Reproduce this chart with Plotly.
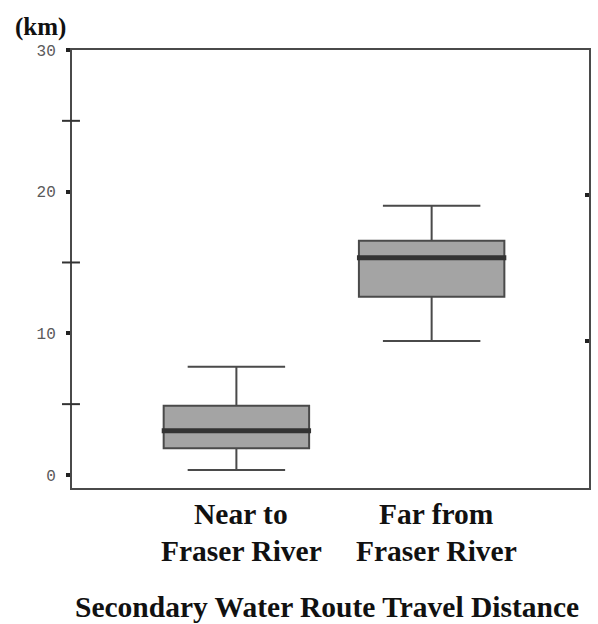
import plotly.graph_objects as go

# Travel distance summaries (km) for the two groups of households
categories = ["Near to<br>Fraser River", "Far from<br>Fraser River"]
lower_whisker = [0.35, 9.46]
q1 = [1.88, 12.58]
median = [3.13, 15.34]
q3 = [4.89, 16.53]
upper_whisker = [7.64, 19.0]

y_major = [0, 10, 20, 30]
y_minor = [5, 15, 25]
right_marks = [9.45, 19.75]

BOX_WIDTH = 0.745
SERIF = "Liberation Serif"
INK = "#4a4a4a"

fig = go.Figure()

for i, cat in enumerate(categories):
    fig.add_trace(go.Box(
        x=[i],
        q1=[q1[i]], median=[median[i]], q3=[q3[i]],
        lowerfence=[lower_whisker[i]], upperfence=[upper_whisker[i]],
        width=BOX_WIDTH,
        whiskerwidth=0.67,
        fillcolor="#a4a4a4",
        line=dict(color=INK, width=2),
        boxpoints=False,
        hoverinfo="skip",
        showlegend=False,
    ))
    # heavy median bar drawn across the box
    half = BOX_WIDTH / 2 + 0.01
    fig.add_trace(go.Scatter(
        x=[i - half, i + half], y=[median[i], median[i]],
        mode="lines", line=dict(color="#333333", width=5),
        hoverinfo="skip", showlegend=False,
    ))
    # two-line category label under the axis
    for j, line in enumerate(cat.split("<br>")):
        fig.add_annotation(
            x=i, xref="x", xshift=5,
            y=-0.0594 - j * 0.0844, yref="paper", yanchor="middle",
            text=line, showarrow=False,
            font=dict(family=SERIF, size=29.5, color="#111111", weight="bold"),
        )

# marks on the right-hand frame
fig.add_trace(go.Scatter(x=[None], y=[None], yaxis="y2", showlegend=False))

# short dashes crossing the left axis between the labelled ticks
for v in y_minor:
    fig.add_shape(type="line", xref="paper", yref="y",
                  x0=-0.0193, x1=0.0154, y0=v, y1=v,
                  line=dict(color="#333333", width=2))

fig.add_annotation(
    x=0.5, xref="paper", xshift=-4, y=-0.2717, yref="paper", yanchor="middle",
    text="Secondary Water Route Travel Distance", showarrow=False,
    font=dict(family=SERIF, size=29.5, color="#111111", weight="bold"),
)
fig.add_annotation(
    x=0, xref="paper", xshift=-32, xanchor="center",
    y=1.0, yref="paper", yshift=23, yanchor="middle",
    text="(km)", showarrow=False,
    font=dict(family=SERIF, size=25, color="#111111", weight="bold"),
)

fig.update_layout(
    width=598, height=624,
    margin=dict(l=72, r=7, t=50, b=136),
    paper_bgcolor="white", plot_bgcolor="white",
    xaxis=dict(
        range=[-0.842, 1.806], showgrid=False, zeroline=False,
        showline=True, mirror=True, linecolor=INK, linewidth=2,
        showticklabels=False, ticks="",
    ),
    yaxis=dict(
        range=[-0.92, 30], showgrid=False, zeroline=False,
        showline=True, mirror=True, linecolor=INK, linewidth=2,
        tickvals=y_major, ticks="outside", ticklen=4, tickwidth=4,
        tickcolor="#222222", ticklabelstandoff=7,
        tickfont=dict(family="Liberation Mono", size=16, color="#5a5a5a"),
    ),
    yaxis2=dict(
        range=[-0.92, 30], overlaying="y", side="right",
        showgrid=False, zeroline=False, showline=False,
        tickvals=right_marks, ticks="inside", ticklen=4, tickwidth=4,
        tickcolor="#222222", showticklabels=False,
    ),
)

fig.write_html("out.html")
